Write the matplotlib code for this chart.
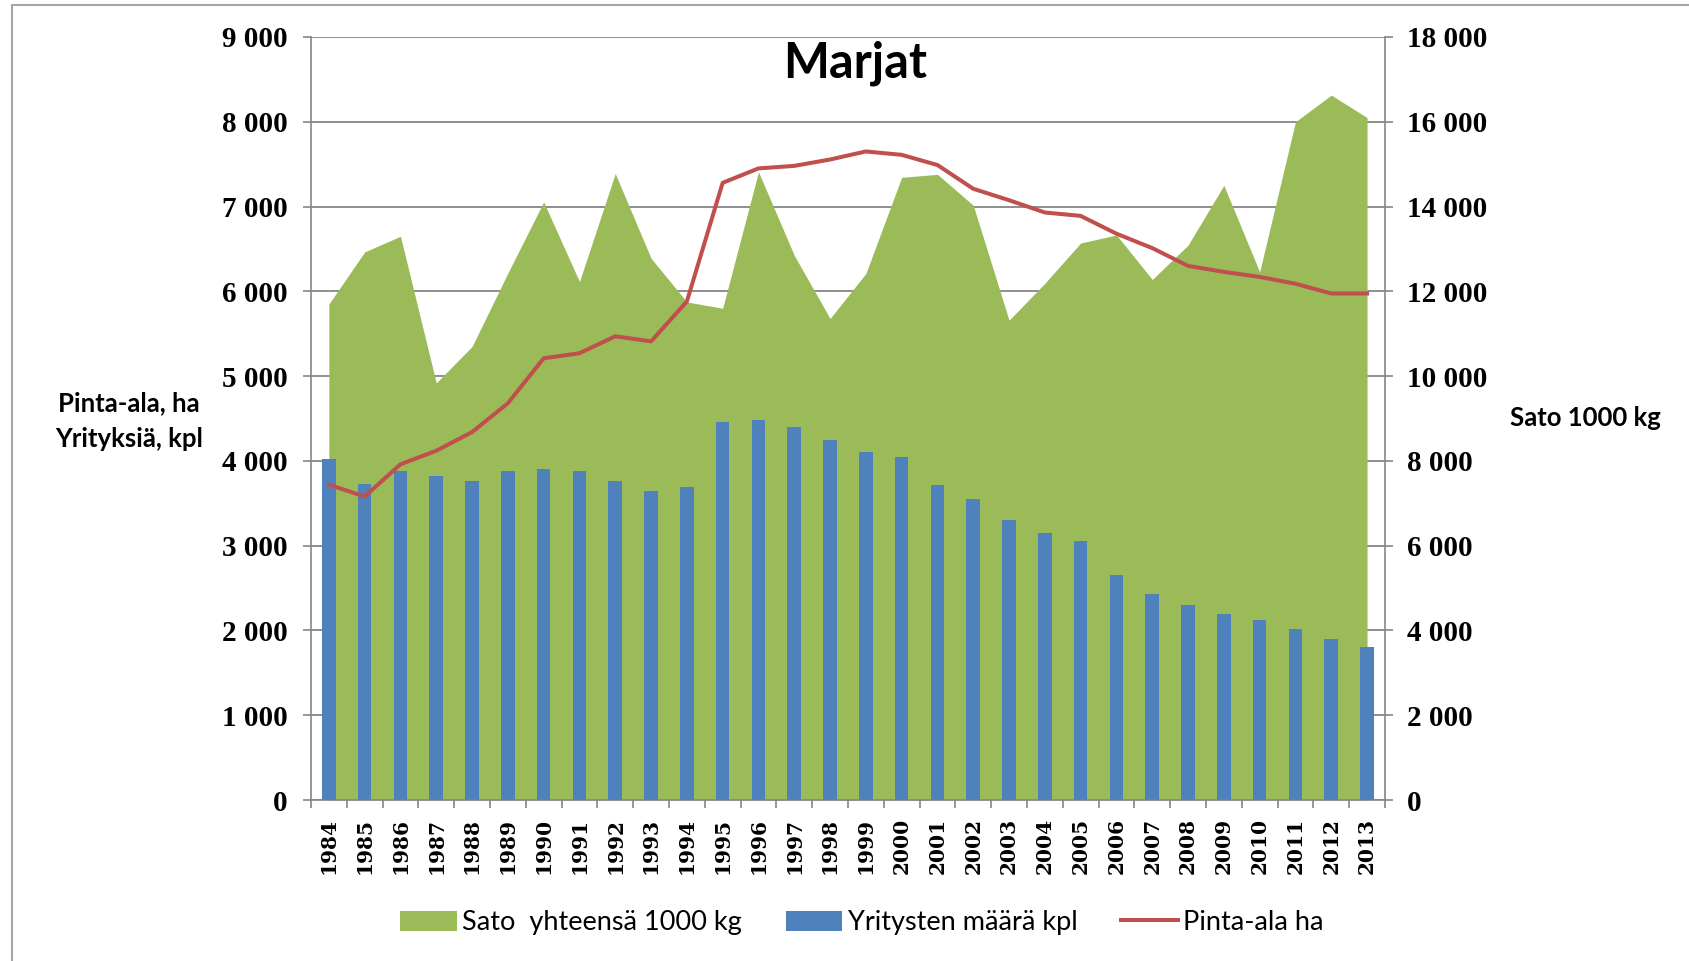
import matplotlib
matplotlib.use("Agg")
import matplotlib.pyplot as plt
import numpy as np
from matplotlib.patches import Rectangle, Patch
from matplotlib.lines import Line2D
from matplotlib.ticker import FuncFormatter

years = [str(y) for y in range(1984, 2014)]

# Sato yhteensä 1000 kg (right axis)
sato = [11700, 12930, 13300, 9840, 10700, 12430, 14110, 12230, 14780, 12780,
        11750, 11600, 14820, 12850, 11360, 12420, 14690, 14760, 14030, 11320,
        12190, 13140, 13330, 12280, 13090, 14500, 12460, 16000, 16630, 16100]

# Yritysten määrä kpl (left axis)
yritykset = [4020, 3730, 3880, 3820, 3760, 3880, 3900, 3880, 3760, 3650,
             3690, 4460, 4485, 4400, 4250, 4110, 4050, 3715, 3550, 3300,
             3155, 3055, 2660, 2430, 2305, 2200, 2125, 2015, 1895, 1810]

# Pinta-ala ha (left axis)
pinta = [3720, 3580, 3960, 4120, 4340, 4680, 5210, 5270, 5470, 5410,
         5880, 7280, 7450, 7480, 7555, 7650, 7610, 7490, 7210, 7075,
         6930, 6890, 6680, 6510, 6300, 6230, 6170, 6090, 5975, 5975]

green = "#9BBB59"
blue = "#4F81BD"
red = "#C0504D"
gray = "#868686"

sans = ["Lato", "DejaVu Sans"]

def fmt(v, pos):
    return f"{int(round(v)):,}".replace(",", " ")

fig = plt.figure(figsize=(16.9, 9.61), dpi=100)
ax1 = fig.add_axes([0.184, 0.1675, 0.6355, 0.794])
ax2 = ax1.twinx()
ax1.set_zorder(2)
ax2.set_zorder(1)
ax1.patch.set_visible(False)

x = np.arange(len(years))

# area on right axis, gridlines underneath
ax2.fill_between(x, sato, 0, color=green, lw=0, zorder=2)
ax2.set_ylim(0, 18000)
ax2.set_yticks(np.arange(0, 18001, 2000))
ax2.yaxis.set_major_formatter(FuncFormatter(fmt))
ax2.yaxis.grid(True, color=gray, lw=1.3)
ax2.set_axisbelow(True)

ax1.bar(x, yritykset, width=0.38, color=blue, zorder=3)
ax1.plot(x, pinta, color=red, lw=2.9, zorder=4, solid_joinstyle="round")
ax1.set_ylim(0, 9000)
ax1.set_yticks(np.arange(0, 9001, 1000))
ax1.yaxis.set_major_formatter(FuncFormatter(fmt))
ax1.set_xlim(-0.5, len(years) - 0.5)

ax1.set_xticks(np.arange(-0.5, len(years), 1))
ax1.set_xticklabels([])
ax1.set_xticks(x, minor=True)
ax1.set_xticklabels(years, minor=True, rotation=90,
                    fontfamily="DejaVu Serif", fontweight="bold", fontsize=14.5)
ax1.tick_params(axis="x", which="minor", length=0, pad=13)
ax1.tick_params(axis="x", which="major", length=6, width=1.2, color=gray, direction="out")
ax1.tick_params(axis="y", length=6, width=1.2, color=gray, pad=11)
ax2.tick_params(axis="y", length=6, width=1.2, color=gray, pad=10)

for lab in ax1.get_yticklabels() + ax2.get_yticklabels():
    lab.set_fontfamily("Liberation Serif")
    lab.set_fontweight("bold")
    lab.set_fontsize(21)

for s in ["top", "right"]:
    ax1.spines[s].set_visible(False)
for s in ["top", "left", "bottom"]:
    ax2.spines[s].set_visible(False)
for s in ["left", "bottom"]:
    ax1.spines[s].set_color(gray)
    ax1.spines[s].set_linewidth(1.2)
ax2.spines["right"].set_color(gray)
ax2.spines["right"].set_linewidth(1.2)

fig.text(0.506, 0.934, "Marjat", ha="center", va="center",
         fontsize=35, fontweight="bold", family=sans)
fig.text(129 / 1690, 1 - 421 / 961, "Pinta-ala, ha\nYrityksiä, kpl", ha="center",
         va="center", fontsize=18.5, fontweight="bold", family=sans, linespacing=1.6)
fig.text(1585 / 1690, 1 - 418 / 961, "Sato 1000 kg", ha="center", va="center",
         fontsize=18.5, fontweight="bold", family=sans)

handles = [Patch(color=green, lw=0), Patch(color=blue, lw=0),
           Line2D([], [], color=red, lw=2.9)]
labels = ["Sato  yhteensä 1000 kg", "Yritysten määrä kpl", "Pinta-ala ha"]
fig.legend(handles, labels, loc="center", bbox_to_anchor=(0.51, 0.04), ncol=3,
           frameon=False, prop={"family": sans, "size": 19.5},
           handlelength=2.1, handleheight=0.75, columnspacing=1.6, handletextpad=0.2)

fig.patches.append(Rectangle((12 / 1690, -0.1), 1.2, 1.1 - 5 / 961,
                             transform=fig.transFigure, fill=False,
                             ec="#a6a6a6", lw=1.5))

fig.savefig("out.png", dpi=100)
